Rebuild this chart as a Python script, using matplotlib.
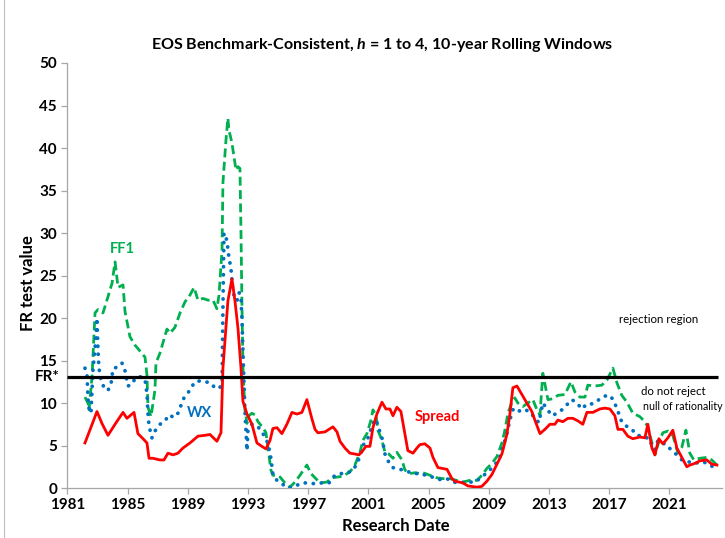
import matplotlib
matplotlib.use("Agg")
import matplotlib.pyplot as plt
from matplotlib.lines import Line2D
from matplotlib.transforms import blended_transform_factory

plt.rcParams["font.family"] = ["Lato", "DejaVu Sans"]
plt.rcParams["mathtext.fontset"] = "custom"
plt.rcParams["mathtext.bfit"] = "Lato:italic:bold"

FR_STAR = 13.06

spread_years = [1982.16, 1982.96, 1983.29, 1983.69, 1984.16, 1984.69, 1984.95, 1985.42, 1985.68,
                1986.02, 1986.28, 1986.42, 1986.68, 1987.15, 1987.41, 1987.68, 1988.01, 1988.34,
                1988.67, 1989.14, 1989.67, 1990.14, 1990.47, 1990.93, 1991.20, 1991.33, 1991.66,
                1991.93, 1992.13, 1992.33, 1992.53, 1992.66, 1992.93, 1993.26, 1993.59, 1993.92,
                1994.19, 1994.46, 1994.65, 1994.92, 1995.25, 1995.58, 1995.92, 1996.25, 1996.58,
                1996.91, 1997.25, 1997.45, 1997.64, 1998.11, 1998.38, 1998.64, 1998.91, 1999.11,
                1999.44, 1999.77, 2000.10, 2000.37, 2000.63, 2000.83, 2001.10, 2001.30, 2001.56,
                2001.90, 2002.16, 2002.43, 2002.63, 2002.89, 2003.16, 2003.43, 2003.62, 2003.96,
                2004.22, 2004.42, 2004.75, 2005.09, 2005.29, 2005.62, 2006.22, 2006.55, 2006.75,
                2007.28, 2007.61, 2008.21, 2008.54, 2008.87, 2009.21, 2009.54, 2009.87, 2010.20,
                2010.40, 2010.60, 2010.87, 2011.20, 2011.53, 2011.86, 2012.06, 2012.40, 2012.73,
                2013.06, 2013.39, 2013.59, 2013.92, 2014.26, 2014.59, 2014.92, 2015.25, 2015.52,
                2015.92, 2016.38, 2016.71, 2017.05, 2017.38, 2017.58, 2017.91, 2018.24, 2018.57,
                2019.04, 2019.37, 2019.57, 2019.84, 2020.04, 2020.30, 2020.57, 2020.90, 2021.23,
                2021.50, 2021.83, 2022.16, 2022.36, 2022.70, 2023.03, 2023.49, 2023.82, 2024.16]
spread_vals = [5.3, 9.0, 7.6, 6.2, 7.5, 8.9, 8.2, 8.9, 6.4,
               5.8, 5.3, 3.5, 3.5, 3.3, 3.3, 4.1, 3.9, 4.1,
               4.7, 5.3, 6.1, 6.2, 6.3, 5.5, 6.5, 14.1, 22.0,
               24.6, 22.0, 18.8, 14.1, 10.2, 8.7, 7.5, 5.3, 4.9,
               4.6, 5.6, 7.0, 7.1, 6.4, 7.5, 8.9, 8.7, 8.9,
               10.4, 8.1, 6.9, 6.5, 6.6, 6.9, 7.2, 6.6, 5.5,
               4.7, 4.1, 4.0, 3.9, 4.4, 4.9, 4.9, 7.1, 8.7,
               10.1, 9.3, 9.3, 8.5, 9.5, 9.0, 6.3, 4.4, 4.1,
               4.7, 5.1, 5.2, 4.7, 3.6, 2.4, 2.2, 1.1, 0.8,
               0.6, 0.25, 0.1, 0.2, 0.8, 1.6, 2.8, 4.0, 6.3,
               8.7, 11.8, 12.0, 11.0, 10.0, 9.0, 8.0, 6.4, 6.9,
               7.5, 7.5, 8.0, 7.8, 8.2, 8.2, 7.9, 7.5, 8.9,
               8.9, 9.3, 9.4, 9.3, 8.5, 6.9, 6.9, 6.1, 5.8,
               6.0, 5.9, 7.5, 4.7, 3.9, 5.8, 5.2, 5.9, 6.8,
               4.7, 3.6, 2.5, 2.7, 2.9, 3.2, 3.3, 2.8, 2.7]

wx_years = [1982.16, 1982.30, 1982.36, 1982.43, 1982.56, 1982.63, 1982.69, 1982.83, 1982.96,
            1983.03, 1983.09, 1983.23, 1983.49, 1983.69, 1983.89, 1984.02, 1984.36, 1984.62,
            1984.82, 1985.02, 1985.29, 1985.49, 1985.82, 1986.15, 1986.28, 1986.35, 1986.42,
            1986.61, 1986.81, 1987.15, 1987.48, 1987.74, 1988.08, 1988.34, 1988.74, 1989.01,
            1989.47, 1989.80, 1990.14, 1990.47, 1990.80, 1991.07, 1991.27, 1991.33, 1991.40,
            1991.53, 1991.66, 1991.73, 1991.86, 1991.93, 1992.00, 1992.13, 1992.26, 1992.40,
            1992.53, 1992.59, 1992.66, 1992.79, 1992.93, 1992.99, 1993.26, 1993.59, 1993.92,
            1994.12, 1994.32, 1994.52, 1994.65, 1994.92, 1995.32, 1995.65, 1995.98, 1996.58,
            1996.98, 1997.45, 1997.91, 1998.38, 1998.64, 1999.04, 1999.44, 1999.90, 2000.24,
            2000.50, 2000.70, 2000.97, 2001.30, 2001.50, 2001.63, 2001.90, 2002.10, 2002.30,
            2002.63, 2003.09, 2003.56, 2003.89, 2004.22, 2004.62, 2005.22, 2005.75, 2006.22,
            2006.61, 2007.08, 2007.55, 2008.08, 2008.54, 2008.94, 2009.41, 2009.74, 2009.94,
            2010.20, 2010.40, 2010.60, 2010.87, 2011.07, 2011.40, 2011.73, 2012.06, 2012.33,
            2012.59, 2013.19, 2013.53, 2013.86, 2014.19, 2014.52, 2014.85, 2015.19, 2015.52,
            2015.92, 2016.25, 2016.65, 2017.05, 2017.25, 2017.51, 2017.78, 2018.04, 2018.51,
            2018.84, 2019.24, 2019.51, 2019.70, 2019.84, 2020.04, 2020.24, 2020.50, 2020.83,
            2021.10, 2021.50, 2021.83, 2022.23, 2022.70, 2023.16, 2023.56, 2023.96]
wx_vals = [14.1, 13.2, 10.6, 9.4, 8.8, 11.4, 13.8, 16.5, 20.0,
           16.1, 14.1, 12.6, 11.6, 11.5, 12.2, 14.0, 14.3, 14.7,
           13.8, 12.0, 12.2, 12.9, 13.1, 12.8, 11.1, 8.7, 7.3,
           5.9, 6.7, 7.5, 7.9, 8.6, 8.3, 8.8, 10.6, 11.2,
           12.5, 12.6, 12.5, 12.4, 11.8, 11.7, 12.2, 21.0, 30.0,
           29.6, 28.2, 27.1, 25.9, 24.4, 23.0, 22.4, 22.0, 23.0,
           22.4, 20.0, 16.1, 9.1, 4.4, 6.7, 7.5, 7.3, 6.7,
           5.9, 5.3, 3.5, 1.6, 0.9, 0.4, 0.0, 0.1, 0.6,
           0.6, 0.5, 0.6, 0.6, 1.3, 1.7, 1.7, 2.0, 2.8,
           4.1, 5.2, 5.9, 7.6, 8.1, 7.3, 5.9, 4.0, 3.2,
           2.4, 2.2, 2.0, 1.7, 1.7, 1.6, 1.3, 1.0, 1.1,
           0.7, 0.6, 0.7, 0.7, 1.3, 1.9, 2.7, 3.7, 4.8,
           6.4, 8.0, 9.2, 9.4, 9.0, 9.2, 9.0, 8.2, 7.7,
           10.0, 8.5, 8.8, 9.2, 9.8, 10.4, 10.0, 9.3, 9.9,
           9.9, 10.3, 10.8, 10.9, 10.4, 9.4, 8.0, 7.4, 6.9,
           6.2, 6.1, 5.9, 5.8, 4.9, 4.5, 5.6, 5.3, 5.1,
           4.5, 3.9, 3.3, 3.1, 2.9, 3.1, 2.9, 2.4]

ff1_years = [1982.16, 1982.36, 1982.43, 1982.63, 1982.83, 1983.03, 1983.36, 1983.69, 1983.96,
             1984.16, 1984.36, 1984.69, 1984.82, 1985.15, 1985.49, 1985.82, 1986.15, 1986.28,
             1986.35, 1986.55, 1986.81, 1986.88, 1987.15, 1987.61, 1987.81, 1988.14, 1988.48,
             1988.81, 1989.14, 1989.41, 1989.67, 1990.00, 1990.34, 1990.67, 1990.93, 1991.07,
             1991.27, 1991.33, 1991.53, 1991.66, 1991.73, 1991.93, 1992.06, 1992.20, 1992.33,
             1992.46, 1992.53, 1992.59, 1992.66, 1992.79, 1992.93, 1992.99, 1993.26, 1993.46,
             1993.66, 1993.99, 1994.19, 1994.32, 1994.52, 1994.65, 1994.92, 1995.12, 1995.45,
             1995.78, 1996.12, 1996.45, 1996.91, 1997.18, 1997.45, 1997.78, 1998.24, 1998.57,
             1998.97, 1999.31, 1999.77, 2000.10, 2000.44, 2000.63, 2000.90, 2001.17, 2001.30,
             2001.50, 2001.63, 2001.90, 2002.10, 2002.36, 2002.63, 2002.89, 2003.23, 2003.43,
             2003.76, 2004.09, 2004.42, 2004.62, 2005.09, 2005.55, 2005.95, 2006.42, 2006.88,
             2007.28, 2007.74, 2008.21, 2008.54, 2008.87, 2009.21, 2009.54, 2009.87, 2010.07,
             2010.27, 2010.54, 2010.73, 2010.93, 2011.27, 2011.60, 2011.93, 2012.20, 2012.40,
             2012.59, 2012.93, 2013.26, 2013.59, 2014.06, 2014.46, 2014.72, 2015.05, 2015.39,
             2015.58, 2016.05, 2016.51, 2016.85, 2017.25, 2017.51, 2017.84, 2018.18, 2018.57,
             2019.04, 2019.37, 2019.57, 2019.84, 2020.04, 2020.24, 2020.57, 2020.90, 2021.23,
             2021.57, 2021.83, 2022.10, 2022.36, 2022.63, 2023.03, 2023.49, 2023.82, 2024.16]
ff1_vals = [10.7, 10.0, 9.2, 13.1, 20.6, 21.0, 20.6, 22.5, 24.1,
            26.6, 23.6, 23.9, 20.8, 17.8, 16.8, 16.1, 15.4, 13.3,
            9.5, 8.4, 11.5, 14.7, 15.9, 18.7, 18.2, 18.9, 20.6,
            21.9, 22.7, 23.6, 22.1, 22.3, 22.1, 22.1, 21.1, 22.7,
            28.0, 35.9, 40.9, 43.5, 42.1, 40.6, 39.0, 37.4, 37.8,
            37.6, 30.0, 22.1, 14.2, 9.2, 7.6, 8.4, 8.8, 8.6,
            7.8, 7.1, 6.5, 4.8, 2.1, 1.5, 1.5, 1.3, 0.6,
            0.1, 0.7, 1.5, 2.7, 1.7, 1.2, 0.6, 0.7, 1.2,
            1.3, 1.4, 1.9, 2.7, 4.2, 5.6, 6.4, 8.0, 9.2,
            8.6, 6.8, 5.6, 4.2, 4.0, 3.5, 4.2, 3.3, 2.1,
            1.7, 1.8, 1.7, 1.8, 1.5, 1.2, 1.1, 1.1, 0.9,
            0.7, 0.9, 0.9, 1.5, 2.3, 2.9, 3.7, 5.3, 6.8,
            8.8, 10.1, 10.6, 10.0, 9.6, 10.0, 10.4, 9.2, 8.6,
            13.5, 10.4, 10.5, 10.9, 11.0, 12.5, 11.3, 10.7, 10.7,
            12.1, 12.0, 12.1, 12.7, 14.1, 12.4, 10.9, 10.1, 8.8,
            8.4, 7.8, 7.2, 5.3, 3.9, 5.1, 6.5, 6.7, 6.2,
            4.1, 4.8, 6.8, 4.1, 3.3, 3.5, 3.6, 3.3, 2.7]

year_ticks = list(range(1981, 2022, 4))

RED = "#FF0000"
GREEN = "#00B050"
BLUE = "#0070C0"
GRAY = "#A6A6A6"

fig = plt.figure(figsize=(7.25, 5.38), dpi=100)
ax = fig.add_axes([0.0931, 0.0929, 0.9028, 0.79])

ax.plot(ff1_years, ff1_vals, color=GREEN, lw=2.0, linestyle=(0, (3.2, 1.6)), zorder=3)
ax.plot(wx_years, wx_vals, color=BLUE, lw=2.7, linestyle=(0, (0.05, 2.1)),
        dash_capstyle="round", zorder=4)
ax.plot(spread_years, spread_vals, color=RED, lw=2.0, zorder=5)
ax.hlines(FR_STAR, 1981, 2024.2, color="black", lw=2.3, zorder=6)

ax.set_xlim(1981, 2024.5)
ax.set_ylim(0, 50)
ax.set_xticks(year_ticks)
ax.set_yticks(range(0, 51, 5))
for s in ("top", "right"):
    ax.spines[s].set_visible(False)
for s in ("left", "bottom"):
    ax.spines[s].set_color(GRAY)
    ax.spines[s].set_linewidth(0.9)
ax.tick_params(axis="both", colors=GRAY, length=4, width=0.9, labelcolor="black",
               labelsize=11)
for lab in ax.get_xticklabels() + ax.get_yticklabels():
    lab.set_fontweight("bold")

trans = blended_transform_factory(ax.transAxes, ax.transData)
ax.text(-0.012, FR_STAR, "FR*", transform=trans, ha="right", va="center",
        fontsize=11, fontweight="bold")

ax.text(1984.62, 28.1, "FF1", color=GREEN, fontsize=10.5, fontweight="bold",
        ha="center", va="center")
ax.text(1989.80, 8.8, "WX", color=BLUE, fontsize=10.5, fontweight="bold",
        ha="center", va="center")
ax.text(2005.55, 8.35, "Spread", color=RED, fontsize=10.5, fontweight="bold",
        ha="center", va="center")
ax.text(2020.30, 19.8, "rejection region", fontsize=8.3, ha="center", va="center")
ax.text(2019.1, 11.3, "do not reject", fontsize=8.3, ha="left", va="center")
ax.text(2019.25, 9.6, "null of rationality", fontsize=7.7, ha="left", va="center",
        clip_on=False)

fig.text(0.527, 0.916, r"EOS Benchmark-Consistent, $\mathbfit{h}$ = 1 to 4, 10-year Rolling Windows",
         ha="center", va="center", fontsize=11.5, fontweight="bold")
fig.text(0.039, 0.474, "FR test value", rotation=90, ha="center", va="center",
         fontsize=12, fontweight="bold")
fig.text(0.546, 0.022, "Research Date", ha="center", va="center",
         fontsize=12, fontweight="bold")

fig.add_artist(Line2D([0.006, 0.006], [0, 1], transform=fig.transFigure,
                      color="#BFBFBF", lw=0.8))

fig.savefig("out.png", dpi=100)
